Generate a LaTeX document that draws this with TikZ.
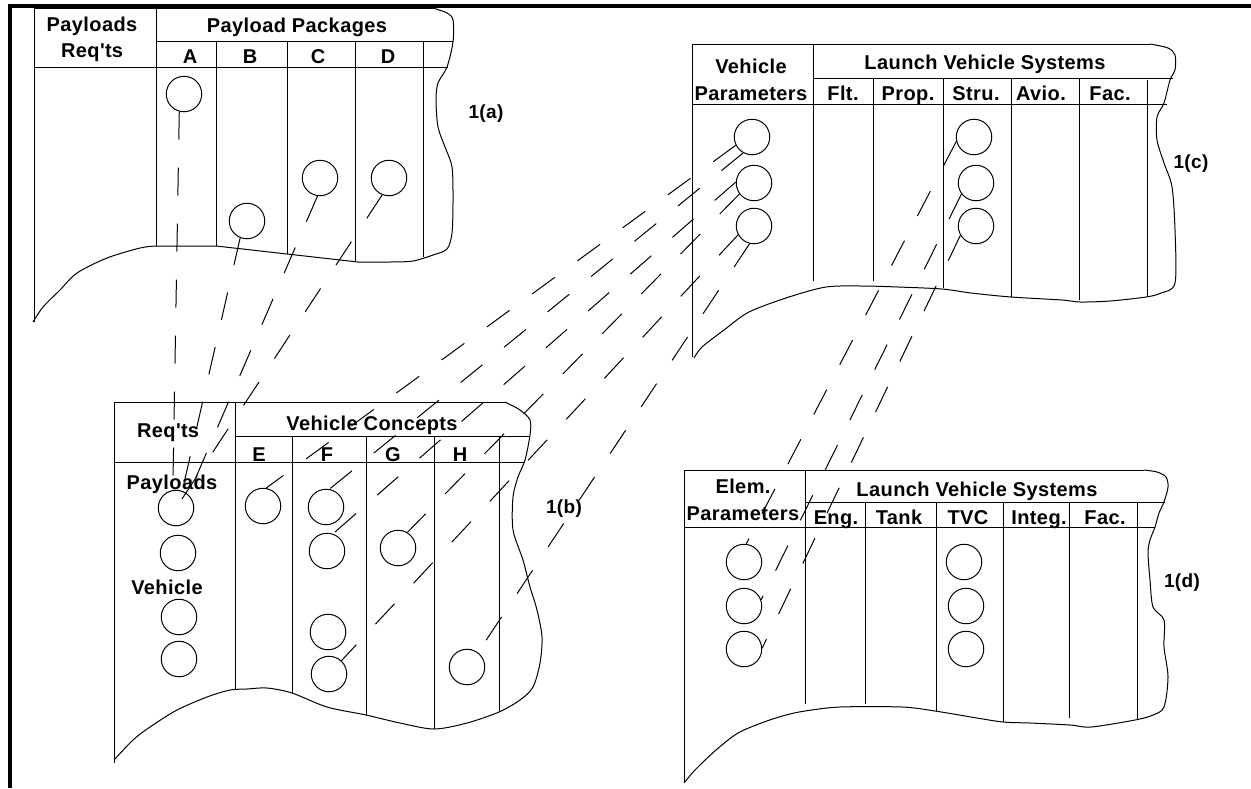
\documentclass[tikz,border=0pt]{standalone}
\usepackage{fontspec}
\setmainfont{Liberation Sans}[Ligatures=TeXOff,LetterSpace=2]
\begin{document}
\begin{tikzpicture}[x=0.5pt,y=-0.5pt,
  ln/.style={line width=0.5pt, line join=round},
  bord/.style={line width=2pt},
  cir/.style={draw, circle, minimum size=17.75pt, inner sep=0pt, line width=0.5pt},
  txt/.style={font=\bfseries\fontsize{10}{12}\selectfont, inner sep=0pt, anchor=base},
  lab/.style={font=\bfseries\fontsize{9.5}{11}\selectfont, inner sep=0pt, anchor=base},
  dsh/.style={line width=0.5pt, dash pattern=on 14pt off 14pt}]
\useasboundingbox (0,0) rectangle (1251,788);
% outer border
\draw[bord] (10,788) -- (10,6) -- (1251,6);

% ================= Panel 1(a)
\draw[ln] (433,8) -- (34,8) -- (34,322);
\draw[ln] plot[smooth,tension=0.5] coordinates {(433,8) (447,13) (453,20) (453,42) (447,67) (438,83) (436,100) (438,127) (445,147) (452,167) (453,200) (452,233) (447,249) (433,255) (413,261) (390,262) (358,262)};
\draw[ln] (358,262) -- (287,254) -- (216,246) -- (156,246);
\draw[ln] plot[smooth,tension=0.5] coordinates {(156,246) (140,248) (107,258) (77,273) (60,290) (43,307) (33,322)};
\draw[ln] (156,8) -- (156,246);
\draw[ln] (156,41) -- (453,41);
\draw[ln] (34,67) -- (448,67);
\draw[ln] (216,41) -- (216,246);
\draw[ln] (287,41) -- (287,254);
\draw[ln] (355,41) -- (355,261);
\draw[ln] (423,41) -- (423,257);
\node[txt] (ta1) at (92,31) {Payloads};
\node[txt] (ta2) at (92,57) {Req't\kern0pt s};
\node[txt] (ta3) at (297,32) {Payload Packages};
\node[txt] (tA) at (190,63) {A};
\node[txt] (tB) at (250,63) {B};
\node[txt] (tC) at (318,63) {C};
\node[txt] (tD) at (388,63) {D};
\node[lab] (la) at (486,118) {1(a)};
\node[cir] (cA) at (184,94) {};
\node[cir] (cB) at (247,221) {};
\node[cir] (cC) at (320,178) {};
\node[cir] (cD) at (389,178) {};

% ================= Panel 1(b)
\draw[ln] (505,402) -- (114,402) -- (114,763);
\draw[ln] plot[smooth,tension=0.5] coordinates {(505,402) (520,410) (530,420) (530,435) (525,460) (518,477) (513,497) (513,530) (523,560) (530,587) (537,610) (542,637) (540,663) (533,687) (520,700) (499,712) (467,723) (434,729) (400,723) (366,715) (327,707) (292,693) (267,688) (247,689) (230,690) (207,697) (177,710) (150,727) (133,740) (114,760)};
\draw[ln] (235,402) -- (235,690);
\draw[ln] (235,436) -- (530,436);
\draw[ln] (114,462) -- (525,462);
\draw[ln] (292,436) -- (292,693);
\draw[ln] (366,436) -- (366,715);
\draw[ln] (434,436) -- (434,729);
\draw[ln] (499,436) -- (499,712);
\node[txt] (tb1) at (168,437) {Req't\kern0pt s};
\node[txt] (tb2) at (372,430) {Vehicle Concepts};
\node[txt] (tE) at (259,461) {E};
\node[txt] (tF) at (327,461) {F};
\node[txt] (tG) at (393,461) {G};
\node[txt] (tH) at (460,461) {H};
\node[txt] (tb3) at (172,489) {Payloads};
\node[txt] (tb4) at (167,594) {Vehicle};
\node[lab] (lb) at (564,513) {1(b)};
\node[cir] (p1) at (176,508) {};
\node[cir] (p2) at (178,553) {};
\node[cir] (v1) at (179,617) {};
\node[cir] (v2) at (179,659) {};
\node[cir] (e1) at (263,506) {};
\node[cir] (f1) at (326,507) {};
\node[cir] (f2) at (327,551) {};
\node[cir] (f3) at (328,632) {};
\node[cir] (f4) at (329,674) {};
\node[cir] (g1) at (398,548) {};
\node[cir] (h1) at (467,667) {};

% ================= Panel 1(c)
\draw[ln] (1150,44) -- (692,44) -- (692,357);
\draw[ln] plot[smooth,tension=0.5] coordinates {(1150,44) (1168,48) (1175,55) (1175,70) (1170,80) (1164,103) (1157,117) (1157,140) (1164,163) (1172,187) (1175,230) (1175,283) (1161,293) (1146,297) (1110,301) (1080,302) (1062,300) (1011,297) (971,293) (942,289) (898,287) (862,286) (826,287) (789,297) (749,312) (724,330) (702,347) (694,358)};
\draw[ln] (813,44) -- (813,281);
\draw[ln] (813,78) -- (1173,78);
\draw[ln] (692,104) -- (1167,104);
\draw[ln] (873,78) -- (873,281);
\draw[ln] (943,78) -- (943,288);
\draw[ln] (1011,78) -- (1011,297);
\draw[ln] (1079,78) -- (1079,300);
\draw[ln] (1147,80) -- (1147,297);
\node[txt] (tc1) at (751,73) {Vehicle};
\node[txt] (tc2) at (751,100) {Parameters};
\node[txt] (tc3) at (985,69) {Launch Vehicle Systems};
\node[txt] (tc4) at (843,100) {Flt.};
\node[txt] (tc5) at (908,100) {Prop.};
\node[txt] (tc6) at (976,100) {Stru.};
\node[txt] (tc7) at (1041,100) {Avio.};
\node[txt] (tc8) at (1110,100) {Fac.};
\node[lab] (lc) at (1191,168) {1(c)};
\node[cir] (vp1) at (752,137) {};
\node[cir] (vp2) at (754,183) {};
\node[cir] (vp3) at (754,226) {};
\node[cir] (s1) at (974,137) {};
\node[cir] (s2) at (976,183) {};
\node[cir] (s3) at (976,226) {};

% ================= Panel 1(d)
\draw[ln] (1144,470) -- (684,470) -- (684,783);
\draw[ln] plot[smooth,tension=0.5] coordinates {(1144,470) (1157,472) (1166,477) (1168,487) (1164,502) (1159,513) (1155,527) (1150,540) (1148,553) (1150,580) (1153,607) (1164,620) (1164,647) (1168,677) (1164,707) (1153,715) (1135,720) (1091,727) (1070,725) (1030,723) (1003,722) (971,717) (935,711) (902,707) (840,707) (805,711) (786,715) (764,722) (738,733) (716,750) (695,770) (684,783)};
\draw[ln] (805,470) -- (805,704);
\draw[ln] (805,502) -- (1165,502);
\draw[ln] (684,527) -- (1155,527);
\draw[ln] (865,502) -- (865,704);
\draw[ln] (936,502) -- (936,712);
\draw[ln] (1003,502) -- (1003,722);
\draw[ln] (1069,502) -- (1069,718);
\draw[ln] (1137,502) -- (1137,720);
\node[txt] (td1) at (743,493) {Elem.};
\node[txt] (td2) at (743,520) {Parameters};
\node[txt] (td3) at (977,496) {Launch Vehicle Systems};
\node[txt] (td4) at (836,524) {Eng.};
\node[txt] (td5) at (899,524) {Tank};
\node[txt] (td6) at (968,524) {TVC};
\node[txt] (td7) at (1039,524) {Integ.};
\node[txt] (td8) at (1105,524) {Fac.};
\node[lab] (ld) at (1182,587) {1(d)};
\node[cir] (ep1) at (744,562) {};
\node[cir] (ep2) at (744,606) {};
\node[cir] (ep3) at (744,649) {};
\node[cir] (t1) at (964,562) {};
\node[cir] (t2) at (966,606) {};
\node[cir] (t3) at (966,649) {};

% ================= dashed connectors 1(a) -> 1(b)
\draw[dsh] (cA.255) -- (p1.100);
\draw[dsh] (cB.248) -- (p1.70);
\draw[dsh] (cC.262) -- (p1.47);
\draw[dsh, shorten >=3pt] (cD.248) -- (p1.center);

% ================= dashed connectors 1(c) -> 1(b)
\draw[dsh] (vp1.207) -- (e1.80);
\draw[dsh] (vp1.241) -- (f1.79);
\draw[dsh] (vp2.177) -- (f2.71);
\draw[dsh] (vp2.217) -- (g1.59);
\draw[dsh] (vp3.209) -- (f4.47);
\draw[dsh] (vp3.256) -- (h1.53);

% ================= dashed connectors 1(c) -> 1(d)
\draw[dsh] (s1.194) -- (ep1.83);
\draw[dsh] (s2.217) -- (ep2.20);
\draw[dsh] (s3.211) -- (ep3.3);
\end{tikzpicture}
\end{document}
